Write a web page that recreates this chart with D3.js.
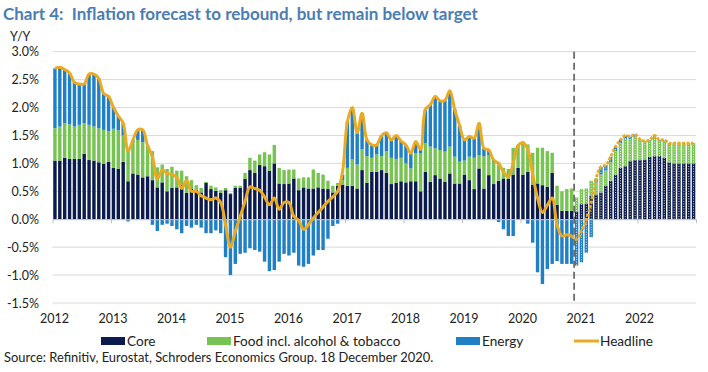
<!DOCTYPE html>
<html><head><meta charset="utf-8">
<script src="https://cdn.jsdelivr.net/npm/d3@7"></script>
<style>
body{margin:0;background:#fff;}
svg{display:block;font-family:Lato, "Open Sans", sans-serif;}
</style></head>
<body>
<svg id="chart" width="708" height="372"></svg>
<script>
const yearLabels = ["2012","2013","2014","2015","2016","2017","2018","2019","2020","2021","2022"];
const yTicks = [-1.5,-1.0,-0.5,0.0,0.5,1.0,1.5,2.0,2.5,3.0];
const forecastStart = 107; // Dec 2020 onwards are forecasts

const core = [
 1.05,1.05,1.10,1.08,1.08,1.08,1.17,1.06,1.05,1.02,0.99,1.03,
 0.92,0.90,1.03,0.68,0.82,0.80,0.75,0.77,0.70,0.57,0.66,0.50,
 0.56,0.57,0.62,0.47,0.55,0.53,0.48,0.65,0.54,0.51,0.47,0.52,
 0.45,0.56,0.56,0.72,0.88,0.83,0.97,0.95,0.87,1.00,0.64,0.63,
 0.64,0.73,0.52,0.57,0.55,0.55,0.57,0.55,0.54,0.48,0.60,0.62,
 0.60,0.60,0.55,0.88,0.65,0.85,0.85,0.88,0.83,0.63,0.65,0.68,
 0.66,0.68,0.68,0.50,0.85,0.67,0.79,0.73,0.67,0.82,0.64,0.64,
 0.80,0.70,0.54,0.91,0.55,0.79,0.63,0.69,0.73,0.72,0.80,0.92,
 0.80,0.85,0.62,0.64,0.61,0.58,0.83,0.26,0.15,0.15,0.15,0.14,
 0.27,0.28,0.42,0.44,0.48,0.60,0.69,0.80,0.92,0.95,1.04,1.06,
 1.06,1.07,1.12,1.13,1.13,1.10,1.02,1.00,1.00,1.00,1.00,1.00
];
const food = [
 0.58,0.61,0.62,0.62,0.58,0.61,0.55,0.63,0.61,0.61,0.61,0.55,
 0.70,0.69,0.47,0.58,0.56,0.62,0.63,0.53,0.52,0.36,0.32,0.40,
 0.38,0.30,0.25,0.30,0.15,0.08,0.08,0.02,0.06,0.06,0.05,0.04,
 0.02,0.04,0.04,0.11,0.22,0.22,0.19,0.25,0.29,0.33,0.28,0.25,
 0.25,0.16,0.21,0.18,0.20,0.34,0.26,0.25,0.15,0.12,0.05,0.08,
 0.32,0.47,0.43,0.37,0.48,0.25,0.31,0.25,0.39,0.47,0.43,0.42,
 0.34,0.23,0.50,0.68,0.51,0.63,0.48,0.51,0.54,0.48,0.48,0.39,
 0.25,0.42,0.56,0.24,0.58,0.36,0.39,0.33,0.19,0.18,0.48,0.38,
 0.56,0.49,0.57,0.64,0.67,0.64,0.36,0.34,0.35,0.39,0.40,0.25,
 0.27,0.27,0.27,0.22,0.32,0.27,0.33,0.42,0.44,0.49,0.40,0.42,
 0.36,0.32,0.29,0.35,0.28,0.30,0.33,0.35,0.35,0.35,0.35,0.35
];
const energy = [
 1.07,1.06,0.96,0.92,0.79,0.73,0.70,0.91,0.94,0.89,0.65,0.62,
 0.38,0.26,0.22,-0.04,0.04,0.18,0.22,0.02,-0.10,-0.21,-0.10,-0.08,
 -0.12,-0.18,-0.25,-0.12,-0.15,-0.10,-0.15,-0.25,-0.25,-0.20,-0.25,-0.68,
 -1.00,-0.80,-0.62,-0.60,-0.52,-0.55,-0.58,-0.76,-0.93,-0.91,-0.76,-0.62,
 -0.65,-0.60,-0.83,-0.85,-0.80,-0.65,-0.55,-0.55,-0.35,-0.12,-0.08,0.10,
 0.83,0.93,0.57,0.65,0.29,0.23,0.17,0.37,0.33,0.32,0.42,0.30,
 0.33,0.27,0.21,0.07,0.61,0.75,0.93,0.88,0.92,1.00,0.85,0.65,
 0.37,0.36,0.35,0.57,0.14,0.09,0.04,-0.05,-0.18,-0.30,-0.30,0.02,
 0.03,-0.08,-0.42,-0.95,-1.16,-0.89,-0.80,-0.75,-0.80,-0.80,-0.80,-0.83,
 -0.77,-0.60,-0.32,0.07,0.14,0.10,0.10,0.08,0.06,0.06,0.04,0.04,
 0.01,0.01,0.01,0.02,0.01,0.02,0.01,0.01,0.01,0.01,0.01,0.01
];
const headline = [
 2.70,2.72,2.68,2.62,2.45,2.42,2.42,2.60,2.60,2.52,2.25,2.20,
 2.00,1.85,1.72,1.22,1.42,1.60,1.60,1.32,1.12,0.72,0.88,0.82,
 0.80,0.75,0.55,0.70,0.50,0.50,0.42,0.38,0.35,0.38,0.30,-0.10,
 -0.50,-0.22,0.05,0.32,0.58,0.55,0.52,0.40,0.26,0.38,0.18,0.30,
 0.30,0.05,-0.02,-0.18,-0.10,0.02,0.12,0.22,0.32,0.40,0.50,0.85,
 1.75,2.00,1.55,1.90,1.42,1.33,1.33,1.50,1.55,1.42,1.50,1.40,
 1.33,1.18,1.39,1.25,1.97,2.05,2.20,2.12,2.13,2.30,1.97,1.68,
 1.42,1.48,1.45,1.72,1.27,1.24,1.06,1.00,0.85,0.76,1.00,1.32,
 1.37,1.25,0.80,0.38,0.12,0.25,0.38,-0.10,-0.30,-0.28,-0.30,-0.36,
 -0.22,0.00,0.29,0.73,0.94,0.97,1.12,1.30,1.42,1.50,1.48,1.52,
 1.43,1.40,1.42,1.50,1.42,1.42,1.36,1.36,1.36,1.36,1.36,1.36
];

const seriesKeys = ["core","food","energy"];
const colors = {core:"#0b1b4d", food:"#77c453", energy:"#1f80c6", headline:"#ebaa24"};
const labels = {core:"Core", food:"Food incl. alcohol & tobacco", energy:"Energy", headline:"Headline"};

const svg = d3.select("#chart");
const x0 = 52.5, x1 = 696, yTop = 51.7, yBot = 303;
const n = core.length;
const table = d3.range(n).map(i => ({i, core:core[i], food:food[i], energy:energy[i]}));

const x = d3.scaleBand().domain(d3.range(n)).range([x0, x1]).paddingInner(0.3).paddingOuter(0.15);
const xm = d3.scaleLinear().domain([0, n]).range([x0, x1]);
const y = d3.scaleLinear().domain([-1.5, 3.0]).range([yBot, yTop]);

// title
svg.append("text").attr("x",3).attr("y",20).attr("fill","#4a7db4").style("white-space","pre")
  .attr("font-size",17).attr("font-weight","bold").text("Chart 4:  Inflation forecast to rebound, but remain below target");
svg.append("text").attr("x",10).attr("y",41).attr("fill","#222").attr("font-size",12.5).text("Y/Y");

// gridlines
svg.append("g").selectAll("line").data(yTicks.filter(v=>v!==0)).join("line")
  .attr("x1",x0).attr("x2",x1).attr("y1",d=>y(d)).attr("y2",d=>y(d))
  .attr("stroke","#d9d9d9").attr("stroke-width",1);

// y labels
svg.append("g").selectAll("text").data(yTicks).join("text")
  .attr("x",39).attr("y",d=>y(d)+4.5).attr("text-anchor","end")
  .attr("font-size",12.5).attr("fill","#222").text(d=>d.toFixed(1)+"%");

// stacked bars
const stack = d3.stack().keys(seriesKeys).offset(d3.stackOffsetDiverging);
const stacked = stack(table);
const gBars = svg.append("g");
stacked.forEach(s => {
  gBars.append("g").attr("fill", colors[s.key]).selectAll("rect").data(s).join("rect")
    .attr("x", d => x(d.data.i)).attr("width", x.bandwidth())
    .attr("y", d => y(Math.max(d[0], d[1])))
    .attr("height", d => Math.abs(y(d[0]) - y(d[1])));
  // forecast dotted texture
  gBars.append("g").selectAll("line").data(s.filter(d => d.data.i >= forecastStart && Math.abs(d[1]-d[0])>0.02)).join("line")
    .attr("x1", d => x(d.data.i) + x.bandwidth()/2).attr("x2", d => x(d.data.i) + x.bandwidth()/2)
    .attr("y1", d => y(Math.max(d[0], d[1]))).attr("y2", d => y(Math.min(d[0], d[1])))
    .attr("stroke","#ffffff").attr("stroke-width",1).attr("stroke-dasharray","1,1.5").attr("opacity",0.85);
});

// x axis (zero line with year ticks)
const xAxis = d3.axisBottom(xm).tickValues(d3.range(0, n+1, 12)).tickFormat(() => "").tickSize(4).tickSizeOuter(0);
const gx = svg.append("g").attr("transform",`translate(0,${y(0)})`).call(xAxis);
gx.select(".domain").attr("stroke","#bfbfbf");
gx.selectAll(".tick line").attr("stroke","#bfbfbf");

// year labels
svg.append("g").selectAll("text").data(yearLabels).join("text")
  .attr("x",(d,k)=>xm(k*12)+2).attr("y",323).attr("text-anchor","middle")
  .attr("font-size",12.5).attr("fill","#222").text(d=>d);

// forecast divider
svg.append("line").attr("x1",xm(forecastStart)).attr("x2",xm(forecastStart))
  .attr("y1",yTop).attr("y2",yBot).attr("stroke","#6b6b6b").attr("stroke-width",1.8).attr("stroke-dasharray","7,4");

// headline line
const line = d3.line().x((d,i)=>x(d.i)+x.bandwidth()/2).y(d=>y(d.v)).curve(d3.curveCatmullRom.alpha(0.5));
const hl = headline.map((v,i)=>({i,v}));
svg.append("path").datum(hl.slice(0, forecastStart)).attr("d", line)
  .attr("fill","none").attr("stroke",colors.headline).attr("stroke-width",3).attr("stroke-linejoin","round");
svg.append("path").datum(hl.slice(forecastStart-1)).attr("d", line)
  .attr("fill","none").attr("stroke",colors.headline).attr("stroke-width",3).attr("stroke-dasharray","3,1.5");

// legend
const lg = svg.append("g");
const items = [
  {k:"core", x:101}, {k:"food", x:207}, {k:"energy", x:456}, {k:"headline", x:574}
];
items.forEach(it => {
  if (it.k === "headline") {
    lg.append("line").attr("x1",it.x).attr("x2",it.x+25).attr("y1",341).attr("y2",341)
      .attr("stroke",colors.headline).attr("stroke-width",3);
  } else {
    lg.append("rect").attr("x",it.x).attr("y",337).attr("width",24).attr("height",8).attr("fill",colors[it.k]);
  }
  lg.append("text").attr("x",it.x+26).attr("y",346).attr("font-size",13.6).attr("fill","#222").text(labels[it.k]);
});

// source
svg.append("text").attr("x",4).attr("y",362).attr("font-size",12.9).attr("fill","#222")
  .text("Source: Refinitiv, Eurostat, Schroders Economics Group. 18 December 2020.");
</script>
</body></html>
